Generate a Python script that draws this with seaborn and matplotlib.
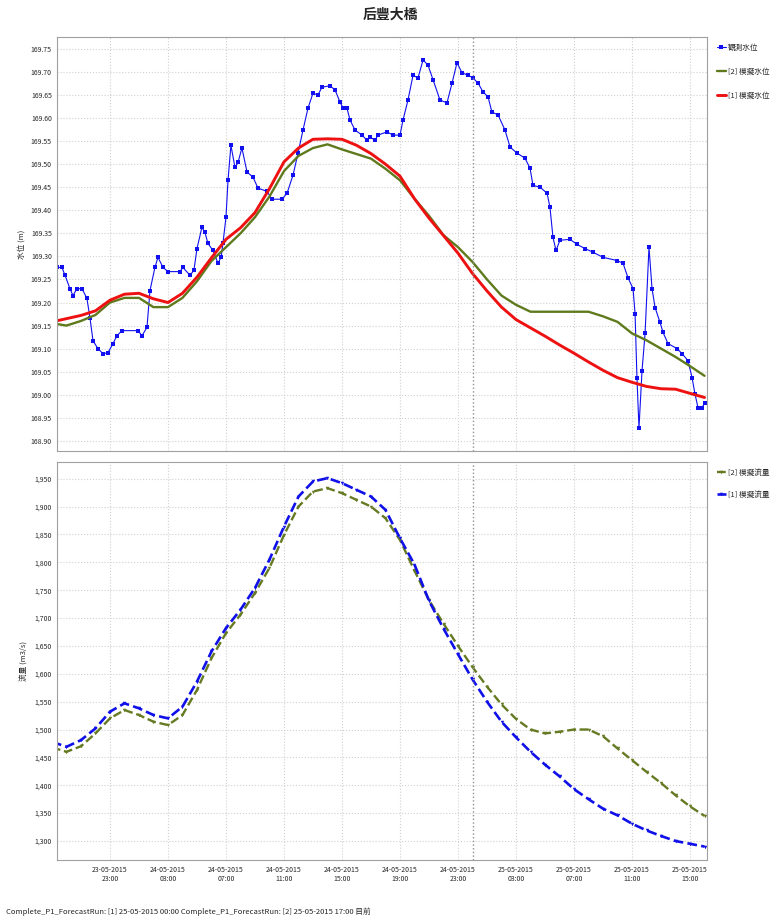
import pandas as pd
import matplotlib
matplotlib.use('Agg')
import matplotlib.pyplot as plt
import matplotlib.dates as mdates
from matplotlib.ticker import FuncFormatter, MultipleLocator
import seaborn as sns

# 時間以小時表示 (相對 2015-05-24 00:00)
base_time = pd.Timestamp('2015-05-24 00:00')

# 觀測水位
obs_hours = [-4.66, -4.31, -4.10, -3.76, -3.55, -3.28, -2.93, -2.59, -2.38, -2.17, -1.83, -1.48,
             -1.14, -0.79, -0.52, -0.17, 0.93, 1.21, 1.55, 1.76, 2.10, 2.31, 2.66, 3.0, 3.83,
             4.03, 4.52, 4.79, 5.0, 5.34, 5.55, 5.76, 6.10, 6.45, 6.66, 6.79, 7.0, 7.14, 7.34,
             7.62, 7.83, 8.10, 8.45, 8.86, 9.21, 9.83, 10.17, 10.86, 11.21, 11.62, 11.97, 12.31,
             12.66, 13.0, 13.34, 13.62, 14.17, 14.52, 14.86, 15.07, 15.34, 15.55, 15.90, 16.38,
             16.72, 16.93, 17.28, 17.48, 18.10, 18.52, 19.0, 19.21, 19.55, 19.90, 20.24, 20.59,
             20.93, 21.28, 21.76, 22.24, 22.59, 22.93, 23.28, 23.69, 24.03, 24.38, 24.72, 25.07,
             25.34, 25.76, 26.24, 26.59, 27.07, 27.62, 27.97, 28.17, 28.66, 29.14, 29.34, 29.55,
             29.76, 30.03, 30.72, 31.21, 31.76, 32.31, 33.0, 33.97, 34.38, 34.72, 35.07, 35.21,
             35.34, 35.48, 35.69, 35.90, 36.17, 36.38, 36.59, 36.93, 37.14, 37.48, 38.10, 38.45,
             38.86, 39.14, 39.34, 39.55, 39.83, 40.03]
obs_level = [169.276, 169.276, 169.259, 169.23, 169.215, 169.23, 169.23, 169.209, 169.167, 169.117,
             169.10, 169.089, 169.091, 169.111, 169.128, 169.139, 169.139, 169.128, 169.146, 169.226,
             169.276, 169.298, 169.276, 169.267, 169.267, 169.276, 169.259, 169.27, 169.317, 169.363,
             169.352, 169.328, 169.313, 169.285, 169.298, 169.328, 169.385, 169.465, 169.541, 169.493,
             169.504, 169.535, 169.483, 169.472, 169.448, 169.441, 169.424, 169.424, 169.437, 169.476,
             169.524, 169.574, 169.622, 169.654, 169.65, 169.667, 169.67, 169.661, 169.635, 169.622,
             169.622, 169.596, 169.574, 169.563, 169.552, 169.559, 169.552, 169.563, 169.57, 169.563,
             169.563, 169.596, 169.639, 169.693, 169.687, 169.726, 169.715, 169.683, 169.639, 169.633,
             169.676, 169.72, 169.698, 169.693, 169.687, 169.676, 169.657, 169.646, 169.613, 169.607,
             169.574, 169.537, 169.524, 169.513, 169.491, 169.454, 169.45, 169.437, 169.407, 169.341,
             169.313, 169.335, 169.337, 169.326, 169.317, 169.309, 169.298, 169.291, 169.285, 169.254,
             169.23, 169.176, 169.037, 168.928, 169.052, 169.133, 169.32, 169.23, 169.189, 169.157,
             169.135, 169.111, 169.10, 169.089, 169.074, 169.037, 169.002, 168.972, 168.972, 168.983]

# 模擬 (每小時)
sim_hours = list(range(-5, 41))
sim2_level = [169.155, 169.15, 169.16, 169.173, 169.20, 169.21, 169.21, 169.19, 169.19, 169.21,
              169.246, 169.29, 169.32, 169.35, 169.385, 169.43, 169.485, 169.518, 169.535, 169.543,
              169.532, 169.522, 169.512, 169.49, 169.465, 169.425, 169.388, 169.346, 169.32, 169.288,
              169.25, 169.215, 169.195, 169.18, 169.18, 169.18, 169.18, 169.18, 169.17, 169.158,
              169.133, 169.118, 169.10, 169.082, 169.062, 169.041]
sim1_level = [169.158, 169.165, 169.172, 169.182, 169.205, 169.218, 169.22, 169.208, 169.20, 169.22,
              169.255, 169.297, 169.337, 169.362, 169.395, 169.447, 169.505, 169.535, 169.554, 169.555,
              169.554, 169.541, 169.523, 169.50, 169.474, 169.425, 169.383, 169.345, 169.307, 169.263,
              169.225, 169.19, 169.163, 169.145, 169.127, 169.108, 169.09, 169.071, 169.053, 169.037,
              169.027, 169.018, 169.013, 169.012, 169.003, 168.994]

sim2_flow = [1468, 1460, 1470, 1493, 1520, 1535, 1526, 1514, 1508, 1526,
             1571, 1628, 1673, 1706, 1745, 1790, 1849, 1900, 1927, 1933,
             1924, 1912, 1900, 1879, 1840, 1785, 1732, 1690, 1650, 1612,
             1577, 1545, 1519, 1500, 1493, 1496, 1500, 1500, 1488, 1466,
             1445, 1424, 1404, 1382, 1362, 1345]
sim1_flow = [1478, 1469, 1481, 1502, 1532, 1547, 1538, 1526, 1520, 1541,
             1586, 1640, 1682, 1715, 1754, 1805, 1864, 1918, 1945, 1951,
             1942, 1930, 1918, 1894, 1843, 1796, 1731, 1681, 1635, 1590,
             1550, 1514, 1486, 1460, 1437, 1416, 1393, 1375, 1358, 1346,
             1331, 1319, 1309, 1300, 1295, 1290]

obs = pd.DataFrame({'time': base_time + pd.to_timedelta(obs_hours, unit='h'), 'level': obs_level})
sim = pd.DataFrame({'time': base_time + pd.to_timedelta(sim_hours, unit='h'),
                    'level2': sim2_level, 'level1': sim1_level,
                    'flow2': sim2_flow, 'flow1': sim1_flow})

sns.set_style('whitegrid', {'grid.linestyle': ':', 'grid.color': '#d0d0d0', 'axes.edgecolor': '#a0a0a0'})
plt.rcParams['font.family'] = ['Noto Sans CJK TC', 'DejaVu Sans']

fig = plt.figure(figsize=(7.8, 9.23), dpi=100)
ax1 = fig.add_axes([0.0735, 0.5114, 0.8329, 0.4486])
ax2 = fig.add_axes([0.0735, 0.0683, 0.8329, 0.4312], sharex=ax1)

# 水位
sns.lineplot(data=obs, x='time', y='level', ax=ax1, color='#1010f0', linewidth=0.8,
             marker='s', markersize=2.6, markeredgewidth=0, label='觀測水位')
sns.lineplot(data=sim, x='time', y='level2', ax=ax1, color='#5f7a1c', linewidth=1.7, label='[2] 模擬水位')
sns.lineplot(data=sim, x='time', y='level1', ax=ax1, color='#ee1111', linewidth=2.1, label='[1] 模擬水位')

# 流量
sns.lineplot(data=sim, x='time', y='flow2', ax=ax2, color='#657a22', linewidth=1.7, linestyle='--',
             marker='v', markersize=2.5, markeredgewidth=0, label='[2] 模擬流量')
sns.lineplot(data=sim, x='time', y='flow1', ax=ax2, color='#1010e8', linewidth=1.9, linestyle='--',
             marker='v', markersize=2.5, markeredgewidth=0, label='[1] 模擬流量')

now_time = pd.Timestamp('2015-05-25 00:00')
for ax, spacing in ((ax1, 2.1), (ax2, 1.8)):
    ax.axvline(now_time, color='#909090', linestyle=':', linewidth=1.0)
    ax.grid(True, linestyle=':', color='#d0d0d0', linewidth=0.8)
    ax.tick_params(labelsize=5, length=2, pad=2)
    ax.legend(loc='upper left', bbox_to_anchor=(1.005, 1.0), frameon=False, fontsize=5.5,
              handlelength=1.1, handletextpad=0.3, labelspacing=spacing)
    ax.set_xlabel('')

ax1.set_xlim(base_time + pd.Timedelta(hours=-4.63), base_time + pd.Timedelta(hours=40.17))
ax1.set_ylim(168.878, 169.776)
ax1.yaxis.set_major_locator(MultipleLocator(0.05))
ax1.yaxis.set_major_formatter(FuncFormatter(lambda v, p: f'{v:.2f}'))
ax1.set_ylabel('水位 (m)', fontsize=5.5)
plt.setp(ax1.get_xticklabels(), visible=False)

ax2.set_ylim(1266, 1980)
ax2.yaxis.set_major_locator(MultipleLocator(50))
ax2.yaxis.set_major_formatter(FuncFormatter(lambda v, p: f'{v:,.0f}'))
ax2.set_ylabel('流量 (m3/s)', fontsize=5.5)
ax2.xaxis.set_major_locator(mdates.HourLocator(byhour=[3, 7, 11, 15, 19, 23]))
ax2.xaxis.set_major_formatter(mdates.DateFormatter('%d-%m-%Y\n%H:%M'))

fig.suptitle('后豐大橋', y=0.992, fontsize=10, fontweight='bold')
fig.text(0.008, 0.008, 'Complete_P1_ForecastRun: [1] 25-05-2015 00:00 Complete_P1_ForecastRun: [2] 25-05-2015 17:00 目前',
         fontsize=5.5, ha='left', va='bottom')

fig.savefig('out.png', dpi=100)
